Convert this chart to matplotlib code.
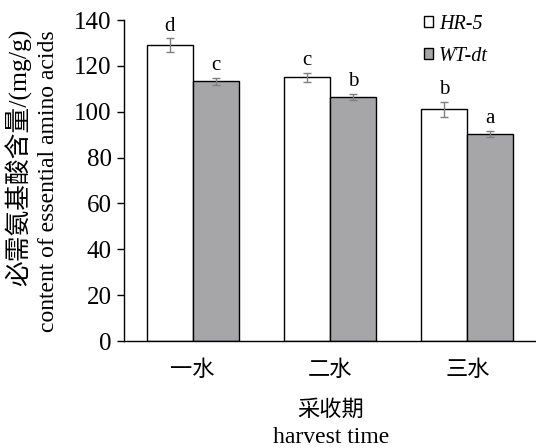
import matplotlib
matplotlib.use("Agg")
import matplotlib.pyplot as plt
import numpy as np

categories = ["一水", "二水", "三水"]
series_names = ["HR-5", "WT-dt"]
hr5 = [129.0, 115.0, 101.0]
hr5_err = [3.0, 2.1, 3.3]
wtdt = [113.2, 106.5, 90.2]
wtdt_err = [1.6, 1.4, 1.4]
hr5_letters = ["d", "c", "b"]
wtdt_letters = ["c", "b", "a"]

serif = ["Liberation Serif", "Noto Sans CJK SC"]
cjk = ["Noto Sans CJK SC"]
plt.rcParams['font.family'] = serif

fig = plt.figure(figsize=(5.36, 4.48), dpi=100)
ax = fig.add_axes([124/536, 1 - 341/448, (536-124)/536, (341-20)/448])

x = np.arange(len(categories))
w = 0.335
ekw = dict(ecolor="#7f7f7f", elinewidth=1.0, capsize=3, capthick=1.0)
b1 = ax.bar(x - w/2, hr5, w, color="white", edgecolor="black", linewidth=1.0,
            yerr=hr5_err, error_kw=ekw, label=series_names[0])
b2 = ax.bar(x + w/2, wtdt, w, color="#a6a6a8", edgecolor="black", linewidth=1.0,
            yerr=wtdt_err, error_kw=ekw, label=series_names[1])

for xi, v, e, t in zip(x - w/2, hr5, hr5_err, hr5_letters):
    ax.text(xi, v + e + 1.2, t, ha="center", va="bottom", fontsize=15, family=serif)
for xi, v, e, t in zip(x + w/2, wtdt, wtdt_err, wtdt_letters):
    ax.text(xi, v + e + 1.2, t, ha="center", va="bottom", fontsize=15, family=serif)

ax.set_xlim(-0.5, 2.5)
ax.set_ylim(0, 140)
ax.set_yticks(np.arange(0, 141, 20))
ax.set_xticks(x)
ax.set_xticklabels(categories, family=cjk, fontsize=16)
ax.tick_params(axis="x", length=0, pad=12)
ax.tick_params(axis="y", direction="out", length=5, labelsize=18, width=1, pad=4)
for lab in ax.get_yticklabels():
    lab.set_family(serif)
ax.spines["top"].set_visible(False)
ax.spines["right"].set_visible(False)
for s in ("left", "bottom"):
    ax.spines[s].set_linewidth(1.0)

fig.text(19/536, 1 - 157/448, "必需氨基酸含量/(mg/g)", rotation=90, ha="center", va="center",
         fontsize=18.5, family=serif)
fig.text(49/536, 1 - 181/448, "content of essential amino acids", rotation=90, ha="center",
         va="center", fontsize=17, family=serif)
fig.text(331/536, 1 - 409/448, "采收期", ha="center", va="center", fontsize=16, family=cjk)
fig.text(331/536, 1 - 437/448, "harvest time", ha="center", va="center", fontsize=17, family=serif)

leg = ax.legend(loc="upper left", bbox_to_anchor=(416/536, 1 - 7/448), frameon=False,
                prop={"family": serif, "style": "italic", "size": 14.5},
                handlelength=0.45, handleheight=0.45, handletextpad=0.3, labelspacing=0.62,
                bbox_transform=fig.transFigure, borderaxespad=0.0)

fig.savefig("out.png", dpi=100)
